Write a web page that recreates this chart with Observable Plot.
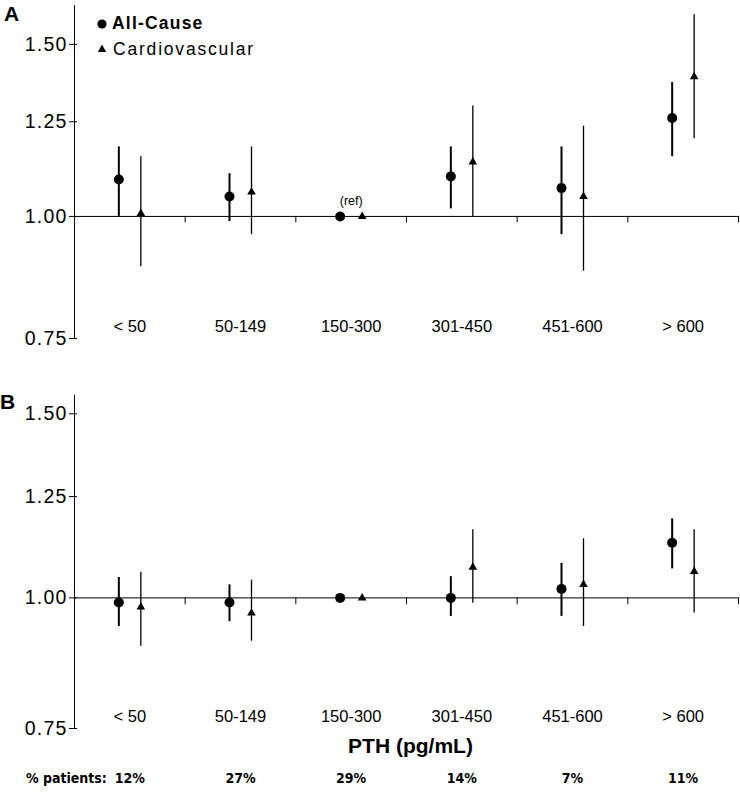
<!DOCTYPE html>
<html>
<head>
<meta charset="utf-8">
<script src="https://cdn.jsdelivr.net/npm/d3@7"></script>
<script src="https://cdn.jsdelivr.net/npm/@observablehq/plot@0.6"></script>
<style>
  body { margin: 0; background: white; }
  #wrap { position: relative; width: 740px; height: 792px; background: white; font-family: "Liberation Sans", Arial, sans-serif; color: black; }
  #wrap svg { display: block; }
  .abs { position: absolute; white-space: nowrap; line-height: 20px; }
  g[aria-label="y-axis tick label"] text { letter-spacing: 1.2px; }
</style>
</head>
<body>
<div id="wrap">
  <div id="panelA" style="position:absolute;left:0;top:0;"></div>
  <div id="panelB" style="position:absolute;left:0;top:360px;"></div>
  <div class="abs" style="left:4px;top:4px;font-size:21px;font-weight:bold;">A</div>
  <div class="abs" style="left:0px;top:392px;font-size:21px;font-weight:bold;">B</div>
  <svg class="abs" style="left:97px;top:18.5px;" width="10" height="10"><circle cx="5" cy="5" r="4.6" fill="black"/></svg>
  <div class="abs" style="left:112px;top:13px;font-size:17.5px;font-weight:bold;letter-spacing:1.2px;">All-Cause</div>
  <svg class="abs" style="left:97px;top:44px;" width="10" height="9"><path d="M5,0.5 L9.2,8 L0.8,8 Z" fill="black"/></svg>
  <div class="abs" style="left:113px;top:39px;font-size:17.5px;letter-spacing:1.8px;">Cardiovascular</div>
</div>
<script>
// ---- data ----
const categories = ["< 50", "50-149", "150-300", "301-450", "451-600", "> 600"];
const percentPatients = ["12%", "27%", "29%", "14%", "7%", "11%"];
const refCategory = "150-300";
const yTicks = [0.75, 1.00, 1.25, 1.50];

// Panel A
const allCauseA    = [1.091, 1.048, 1.000, 1.099, 1.069, 1.261];
const allCauseA_lo = [1.000, 0.988, null,  1.018, 0.958, 1.151];
const allCauseA_hi = [1.178, 1.106, null,  1.178, 1.178, 1.371];
const cardioA      = [1.007, 1.059, 1.000, 1.137, 1.048, 1.390];
const cardioA_lo   = [0.888, 0.958, null,  1.000, 0.879, 1.201];
const cardioA_hi   = [1.151, 1.178, null,  1.297, 1.237, 1.609];

// Panel B
const allCauseB    = [0.990, 0.990, 1.000, 1.000, 1.020, 1.129];
const allCauseB_lo = [0.939, 0.949, null,  0.960, 0.960, 1.066];
const allCauseB_hi = [1.046, 1.029, null,  1.048, 1.079, 1.190];
const cardioB      = [0.980, 0.967, 1.000, 1.070, 1.030, 1.060];
const cardioB_lo   = [0.899, 0.909, null,  0.988, 0.939, 0.967];
const cardioB_hi   = [1.058, 1.040, null,  1.162, 1.139, 1.162];

function rows(est, lo, hi) {
  return categories.map((c, i) => ({cat: c, x: i + 0.5, est: est[i], lo: lo[i], hi: hi[i]}));
}

function panel({allC, card, height, marginTop, marginBottom, yDomain, showRef, extra}) {
  const n = categories.length;
  const marks = [
    Plot.ruleX([0]),
    Plot.ruleY([1]),
    Plot.ruleX(d3.range(1, n + 1), {y1: 1, y2: 0.985}),
    Plot.axisY({ticks: yTicks, tickFormat: d3.format(".2f"), tickSize: 8, dx: 3, tickPadding: 2, fontSize: 19.5}),
    Plot.ruleX(allC.filter(d => d.lo != null), {x: "x", y1: "lo", y2: "hi", dx: -11, strokeWidth: 2}),
    Plot.ruleX(card.filter(d => d.lo != null), {x: "x", y1: "lo", y2: "hi", dx: 11, strokeWidth: 1.3}),
    Plot.dot(allC, {x: "x", y: "est", dx: -11, r: 5, fill: "black", symbol: "circle"}),
    Plot.dot(card, {x: "x", y: "est", dx: 11, r: 3.2, fill: "black", symbol: "triangle"}),
    Plot.text(categories, {x: (d, i) => i + 0.5, text: d => d, frameAnchor: "bottom", dy: -7, fontSize: 16.5})
  ];
  if (showRef) {
    marks.push(Plot.text([refCategory], {x: d => categories.indexOf(d) + 0.5, y: 1, dy: -15, text: () => "(ref)", fontSize: 12.5}));
  }
  if (extra) marks.push(...extra);
  return Plot.plot({
    width: 740,
    height,
    marginLeft: 74,
    marginRight: 2,
    marginTop,
    marginBottom,
    x: {domain: [0, n], axis: null},
    y: {type: "log", domain: yDomain, axis: null},
    style: {fontFamily: "'Liberation Sans', Arial, sans-serif", color: "black", background: "white", overflow: "visible"},
    marks
  });
}

const pctFont = "'DejaVu Sans Condensed', 'DejaVu Sans', sans-serif";

const A = panel({
  allC: rows(allCauseA, allCauseA_lo, allCauseA_hi),
  card: rows(cardioA, cardioA_lo, cardioA_hi),
  height: 360, marginTop: 5, marginBottom: 22,
  yDomain: [0.75, 1.644], showRef: true
});

const B = panel({
  allC: rows(allCauseB, allCauseB_lo, allCauseB_hi),
  card: rows(cardioB, cardioB_lo, cardioB_hi),
  height: 432, marginTop: 35, marginBottom: 64,
  yDomain: [0.75, 1.5617], showRef: false,
  extra: [
    Plot.text(["PTH (pg/mL)"], {frameAnchor: "bottom", dx: 4, dy: 24, text: d => d, fontSize: 21, fontWeight: "bold"}),
    Plot.text(percentPatients, {x: (d, i) => i + 0.5, text: d => d, frameAnchor: "bottom", dy: 54, fontSize: 14, fontWeight: "bold", fontFamily: pctFont}),
    Plot.text(["% patients:"], {x: () => 0.5, text: d => d, frameAnchor: "bottom", dx: -23, dy: 54, textAnchor: "end", fontSize: 14, fontWeight: "bold", fontFamily: pctFont})
  ]
});

document.getElementById("panelA").appendChild(A);
document.getElementById("panelB").appendChild(B);
</script>
</body>
</html>
